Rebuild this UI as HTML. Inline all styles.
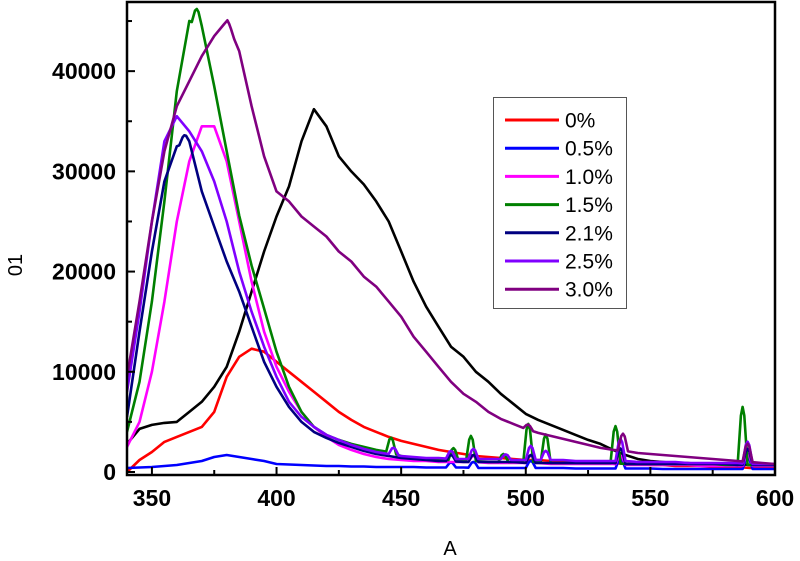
<!DOCTYPE html>
<html><head><meta charset="utf-8"><style>
html,body{margin:0;padding:0;background:#fff;}
svg{display:block;font-family:"Liberation Sans",Arial,sans-serif;}
</style></head><body>
<svg id="chart" width="800" height="561" viewBox="0 0 800 561"></svg>
<script>
const wavelengths = [340,345,350,355,360,365,370,375,380,385,390,395,400,405,410,415,420,425,430,435,440,445,450,455,460,465,470,475,480,485,490,495,500,505,510,515,520,525,530,535,540,545,550,555,560,565,570,575,580,585,590,595,600];
const seriesNames = ["black","0%","0.5%","1.0%","1.5%","2.1%","2.5%","3.0%"];
const seriesColors = ["#000000","#ff0000","#0000ff","#ff00ff","#008000","#000080","#8000ff","#800080"];
const blackVals = [2800,4300,4700,4900,5000,6000,7000,8500,10500,14000,18000,22000,25500,28500,33000,36200,34500,31500,30000,28700,27000,25000,22000,19000,16500,14500,12500,11500,10000,9000,7800,6800,5800,5200,4700,4200,3700,3200,2800,2200,1700,1300,1100,1000,900,900,800,800,800,800,700,700,700];
const redVals = [0,1200,2000,3000,3500,4000,4500,6000,9500,11500,12300,12000,11000,10000,9000,8000,7000,6000,5200,4500,4000,3500,3100,2800,2500,2200,2000,1800,1600,1500,1400,1300,1200,1200,1100,1100,1000,1000,900,900,800,800,700,700,600,600,600,500,500,500,400,400,400];
const blueVals = [400,450,500,600,700,900,1100,1500,1700,1500,1300,1100,800,750,700,650,600,600,550,550,500,500,500,500,450,450,450,450,400,400,400,400,400,400,400,400,350,350,350,350,350,350,350,300,300,300,300,300,300,300,300,300,300];
const magentaVals = [2500,5000,10000,17000,25000,31000,34500,34500,31000,25000,19000,14000,10500,8000,6000,4500,3500,2700,2200,1800,1500,1300,1200,1100,1100,1000,1000,1000,1000,900,900,900,900,900,800,800,800,800,800,800,700,700,700,700,700,700,600,600,600,600,600,600,600];
const greenVals = [4000,9000,17000,27000,38000,45000,44500,38500,32000,25600,20600,16300,12000,8500,6000,4500,3700,3200,2800,2500,2200,2000,1600,1400,1300,1200,1200,1100,1100,1000,1000,1000,1000,1000,900,900,900,900,900,900,800,800,800,800,800,800,800,800,700,700,700,700,700];
const navyVals = [5500,14000,22000,29000,32500,33000,28000,24500,21000,18000,14500,11000,8500,6500,5000,4000,3400,2900,2500,2100,1800,1600,1400,1300,1200,1100,1100,1000,1000,1000,1000,1000,900,900,900,900,900,900,900,900,800,800,800,800,800,800,800,800,800,700,700,700,700];
const violetVals = [8000,16000,25000,33000,35500,34000,32000,29000,25000,20000,16000,12500,9500,7000,5500,4500,3700,3200,2700,2300,2000,1800,1600,1500,1400,1400,1300,1300,1300,1300,1300,1200,1200,1200,1200,1200,1100,1100,1100,1100,1100,1000,1000,1000,1000,900,900,900,900,900,800,800,800];
const purpleVals = [9500,17000,25000,32000,36500,39000,41500,43500,45000,42000,36500,31500,28000,27000,25500,24500,23500,22000,21000,19500,18500,17000,15500,13500,12000,10500,9000,7800,7000,6000,5300,4800,4300,3900,3600,3300,3000,2700,2400,2200,2100,1900,1800,1700,1600,1500,1400,1300,1200,1100,1000,900,800];
const blackSpikes = [];
const redSpikes = [];
const blueSpikes = [[470,500],[479,600],[502,700],[538,1000],[589,1200]];
const magentaSpikes = [[479,600],[502,700],[538,900],[589,1200]];
const greenSpikes = [[368,1500],[446,1500],[471,1200],[478,2500],[491,800],[501,3800],[508,2800],[536,3700],[587,5800]];
const navySpikes = [[363,800],[470,600],[479,700],[502,800],[538,1500],[589,1600]];
const violetSpikes = [[447,700],[470,800],[479,1000],[492,500],[502,1400],[508,900],[538,2200],[589,2200]];
const purpleSpikes = [[381,300],[501,500],[539,1700],[589,1800]];
const yTicks = [0,10000,20000,30000,40000];
const xTicks = [350,400,450,500,550,600];

const allVals = [blackVals,redVals,blueVals,magentaVals,greenVals,navyVals,violetVals,purpleVals];
const allSpikes = [blackSpikes,redSpikes,blueSpikes,magentaSpikes,greenSpikes,navySpikes,violetSpikes,purpleSpikes];

const L=127,R=775,T=2,B=475;
const X0=340,X1=600,Y0=-300,Y1=46900;
const sx=v=>L+(v-X0)/(X1-X0)*(R-L);
const sy=v=>B-(v-Y0)/(Y1-Y0)*(B-T);
const NS="http://www.w3.org/2000/svg";
const svg=document.getElementById('chart');
function mk(tag,attrs,parent){const e=document.createElementNS(NS,tag);for(const k in attrs)e.setAttribute(k,attrs[k]);(parent||svg).appendChild(e);return e;}
function interp(vals,x){for(let i=0;i<wavelengths.length-1;i++){if(x>=wavelengths[i]&&x<=wavelengths[i+1]){const t=(x-wavelengths[i])/(wavelengths[i+1]-wavelengths[i]);return vals[i]+t*(vals[i+1]-vals[i]);}}return vals[vals.length-1];}

const clip=mk('clipPath',{id:'plotclip'});
mk('rect',{x:L,y:T,width:R-L,height:B-T},clip);

const gLines=mk('g',{'clip-path':'url(#plotclip)'});


allVals.forEach((vals,si)=>{
  let pts=wavelengths.map((w,i)=>[w,vals[i]]);
  allSpikes[si].forEach(sp=>{
    const p=sp[0],h=sp[1];
    pts=pts.filter(q=>q[0]<=p-2.1||q[0]>=p+2.1);
    pts.push([p-2,interp(vals,p-2)]);
    pts.push([p-0.7,interp(vals,p-0.7)+h*0.85]);
    pts.push([p,interp(vals,p)+h]);
    pts.push([p+0.7,interp(vals,p+0.7)+h*0.85]);
    pts.push([p+2,interp(vals,p+2)]);
  });
  pts.sort((a,b)=>a[0]-b[0]);
  const d=pts.map((q,i)=>(i?'L':'M')+sx(q[0]).toFixed(1)+','+sy(q[1]).toFixed(1)).join(' ');
  const path=mk('path',{d:d,fill:'none',stroke:seriesColors[si],'stroke-width':2.6,'stroke-linejoin':'round'},gLines);
  
  
});

const frame=mk('rect',{x:L,y:T,width:R-L,height:B-T,fill:'none',stroke:'#000','stroke-width':2.5});



const gAxes=mk('g',{});


for(let v=0;v<=45000;v+=5000){
  const major=v%10000===0;
  mk('line',{x1:L,x2:L+(major?8:5),y1:sy(v),y2:sy(v),stroke:'#000','stroke-width':2},gAxes);
}
yTicks.forEach(v=>{
  const t=mk('text',{x:L-11,y:sy(v)+8,'text-anchor':'end','font-size':23,'font-weight':'bold',fill:'#000'},gAxes);
  t.textContent=v;
  
  
});
for(let v=350;v<=600;v+=25){
  const major=v%50===0;
  mk('line',{x1:sx(v),x2:sx(v),y1:B,y2:B-(major?8:5),stroke:'#000','stroke-width':2},gAxes);
}
xTicks.forEach(v=>{
  const t=mk('text',{x:sx(v),y:506,'text-anchor':'middle','font-size':23,'font-weight':'bold',fill:'#000'},gAxes);
  t.textContent=v;
  
  
});
const xt=mk('text',{x:450,y:555,'text-anchor':'middle','font-size':20,fill:'#000'});
xt.textContent='A';


const yt=mk('text',{x:22,y:265,'text-anchor':'middle','font-size':20,fill:'#000',transform:'rotate(-90 22 265)'});
yt.textContent='01';



const gLeg=mk('g',{});


mk('rect',{x:493.5,y:97.5,width:133,height:211,fill:'#fff',stroke:'#555','stroke-width':1},gLeg);
for(let i=1;i<seriesNames.length;i++){
  const y=120+(i-1)*28.2;
  const ent=mk('g',{},gLeg);
  
  
  mk('line',{x1:505,x2:559,y1:y,y2:y,stroke:seriesColors[i],'stroke-width':3},ent);
  const t=mk('text',{x:565,y:y+7.5,'font-size':21,fill:'#000'},ent);
  t.textContent=seriesNames[i];
}
</script>
</body></html>
